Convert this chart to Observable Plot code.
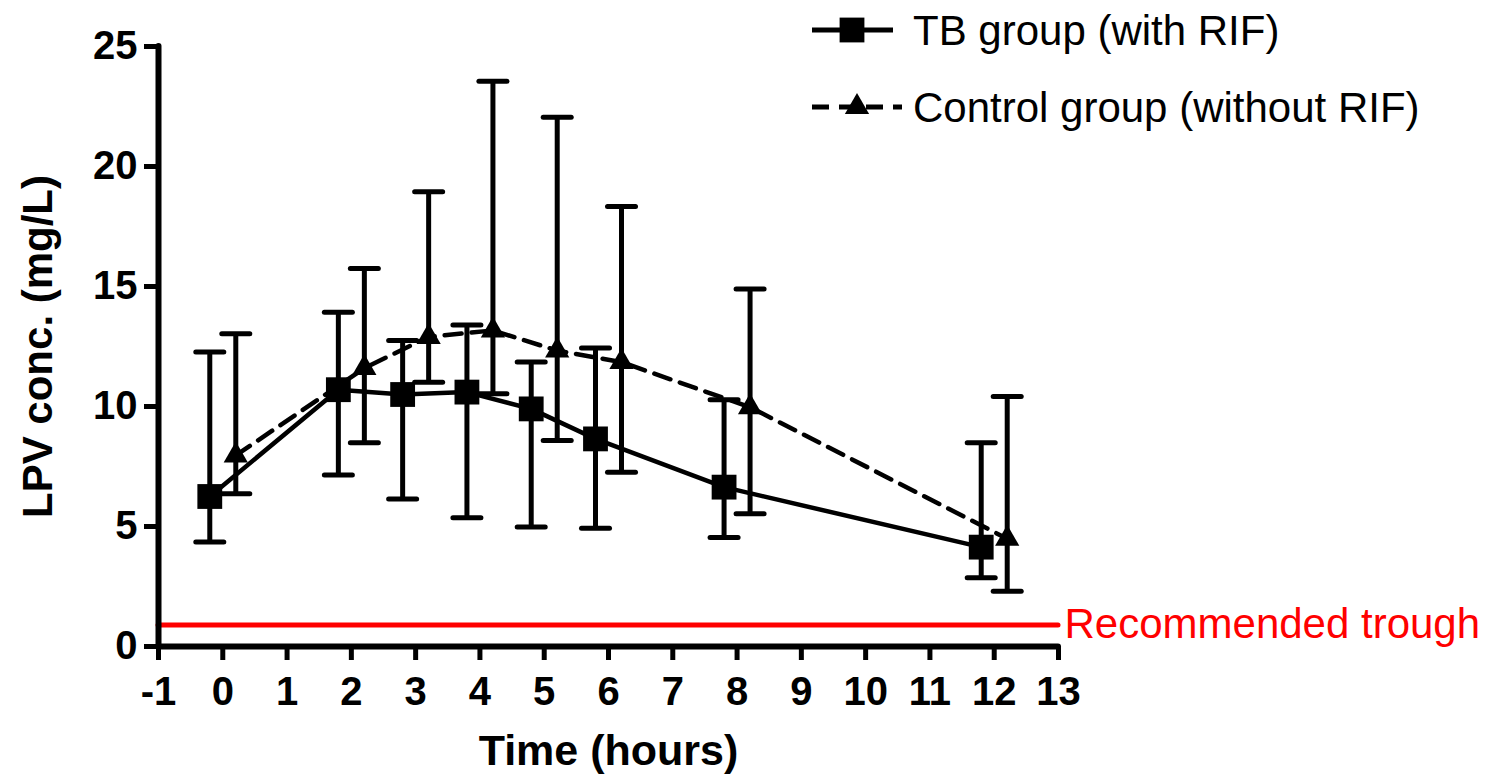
<!DOCTYPE html>
<html>
<head>
<meta charset="utf-8">
<script src="https://cdn.jsdelivr.net/npm/d3@7"></script>
<script src="https://cdn.jsdelivr.net/npm/@observablehq/plot@0.6"></script>
<style>
  html, body { margin: 0; padding: 0; background: #fff; }
  #wrap { position: relative; width: 1503px; height: 775px; overflow: hidden; }
  #legend { position: absolute; left: 0; top: 0; }
  g[aria-label$="tick label"] text { font-weight: bold; }
</style>
</head>
<body>
<div id="wrap"></div>
<script>
// ---- data ----
const times      = [0, 2, 3, 4, 5, 6, 8, 12];
const tbMean     = [6.25, 10.7, 10.5, 10.6, 9.9, 8.65, 6.64, 4.14];
const tbLow      = [4.35, 7.15, 6.15, 5.36, 4.98, 4.93, 4.54, 2.86];
const tbHigh     = [12.27, 13.93, 12.75, 13.4, 11.85, 12.44, 10.28, 8.49];
const ctrlMean   = [7.96, 11.6, 12.9, 13.17, 12.33, 11.85, 9.97, 4.49];
const ctrlLow    = [6.36, 8.49, 11.01, 10.53, 8.58, 7.26, 5.53, 2.3];
const ctrlHigh   = [13.03, 15.75, 18.95, 23.55, 22.05, 18.33, 14.9, 10.42];
const troughValue = [0.9];
const xTicks = [-1, 0, 1, 2, 3, 4, 5, 6, 7, 8, 9, 10, 11, 12, 13];
const yTicks = [0, 5, 10, 15, 20, 25];
const seriesNames = ["TB group (with RIF)", "Control group (without RIF)"];
const troughLabel = "Recommended trough";
const xTitle = "Time (hours)";
const yTitle = "LPV conc. (mg/L)";

const tb = times.map((t, i) => ({t, mean: tbMean[i], lo: tbLow[i], hi: tbHigh[i]}));
const ctrl = times.map((t, i) => ({t, mean: ctrlMean[i], lo: ctrlLow[i], hi: ctrlHigh[i]}));

const capSymbol = {draw(ctx) { ctx.moveTo(-14, 0); ctx.lineTo(14, 0); }};
const FONT = "'Liberation Sans', Arial, Helvetica, sans-serif";

function errorMarks(data, dx) {
  return [
    Plot.ruleX(data, {x: "t", y1: "lo", y2: "hi", dx, stroke: "black", strokeWidth: 5}),
    Plot.dot(data, {x: "t", y: "lo", dx, symbol: capSymbol, r: 5, stroke: "black", strokeWidth: 5, strokeLinecap: "round", fill: "none"}),
    Plot.dot(data, {x: "t", y: "hi", dx, symbol: capSymbol, r: 5, stroke: "black", strokeWidth: 5, strokeLinecap: "round", fill: "none"})
  ];
}

const chart = Plot.plot({
  width: 1503,
  height: 775,
  marginLeft: 158,
  marginRight: 445,
  marginTop: 46,
  marginBottom: 129,
  style: {fontFamily: FONT, background: "white", overflow: "visible", color: "black"},
  x: {domain: [-1, 13]},
  y: {domain: [0, 25]},
  marks: [
    Plot.ruleY(troughValue, {stroke: "#ff0000", strokeWidth: 5, strokeLinecap: "round"}),
    Plot.text(troughValue, {frameAnchor: "right", y: d => d, text: () => troughLabel, textAnchor: "start", lineAnchor: "middle", dx: 6, fill: "#ff0000", fontSize: 42}),
    ...errorMarks(tb, -13),
    ...errorMarks(ctrl, 13),
    Plot.line(tb, {x: "t", y: "mean", dx: -13, stroke: "black", strokeWidth: 4.5}),
    Plot.line(ctrl, {x: "t", y: "mean", dx: 13, stroke: "black", strokeWidth: 4.5, strokeDasharray: "17,10"}),
    Plot.dot(tb, {x: "t", y: "mean", dx: -13, symbol: "square", r: 14, fill: "black"}),
    Plot.dot(ctrl, {x: "t", y: "mean", dx: 13, symbol: "triangle", r: 9, fill: "black"}),
    Plot.ruleX([-1], {stroke: "black", strokeWidth: 6, strokeLinecap: "round"}),
    Plot.ruleY([0], {stroke: "black", strokeWidth: 6, strokeLinecap: "round"}),
    Plot.axisX({ticks: xTicks, tickFormat: d => String(d), tickSize: 14, tickPadding: 16, strokeWidth: 5, fontSize: 40, fontWeight: "bold", label: null}),
    Plot.axisY({ticks: yTicks, tickFormat: d => String(d), tickSize: 14, tickPadding: 7, strokeWidth: 5, fontSize: 40, fontWeight: "bold", label: null}),
    Plot.text([xTitle], {frameAnchor: "bottom", text: d => d, dy: 105, textAnchor: "middle", lineAnchor: "middle", fontSize: 43, fontWeight: "bold"}),
    Plot.text([yTitle], {frameAnchor: "left", text: d => d, rotate: -90, dx: -120, textAnchor: "middle", lineAnchor: "middle", fontSize: 42, fontWeight: "bold"})
  ]
});

const wrap = document.getElementById("wrap");
wrap.appendChild(chart);

// legend (overlay, top right)
const ns = "http://www.w3.org/2000/svg";
const leg = document.createElementNS(ns, "svg");
leg.setAttribute("id", "legend");
leg.setAttribute("width", 1503);
leg.setAttribute("height", 140);
leg.style.fontFamily = FONT;
const rowsY = [30, 107];
seriesNames.forEach((name, i) => {
  const y = rowsY[i];
  const g = document.createElementNS(ns, "g");
  const line = document.createElementNS(ns, "line");
  line.setAttribute("x1", 812); line.setAttribute("x2", i === 0 ? 893 : 902);
  line.setAttribute("y1", y); line.setAttribute("y2", y);
  line.setAttribute("stroke", "black"); line.setAttribute("stroke-width", 5);
  if (i === 1) line.setAttribute("stroke-dasharray", "17,10");
  g.appendChild(line);
  const sym = document.createElementNS(ns, "path");
  const s = i === 0 ? d3.symbol(d3.symbolSquare, 14 * 14 * Math.PI) : d3.symbol(d3.symbolTriangle, 9 * 9 * Math.PI);
  sym.setAttribute("d", s());
  sym.setAttribute("transform", `translate(${i === 0 ? 852 : 857},${y})`);
  sym.setAttribute("fill", "black");
  g.appendChild(sym);
  const tx = document.createElementNS(ns, "text");
  tx.setAttribute("x", 913); tx.setAttribute("y", y);
  tx.setAttribute("dominant-baseline", "central");
  tx.setAttribute("font-size", 42);
  tx.textContent = name;
  g.appendChild(tx);
  leg.appendChild(g);
});
wrap.appendChild(leg);
</script>
</body>
</html>
